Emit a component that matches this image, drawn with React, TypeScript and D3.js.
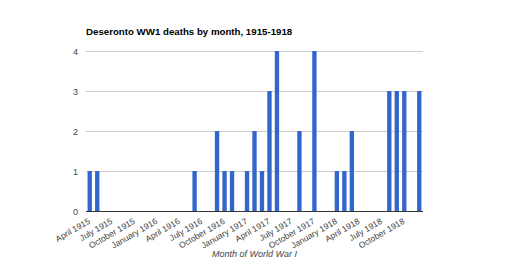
import React, { useRef, useEffect } from 'react';
import * as d3 from 'd3';

// deaths per month, April 1915 .. December 1918
const MONTHS = [
    "Apr 1915", "May 1915", "Jun 1915", "Jul 1915", "Aug 1915", "Sep 1915", "Oct 1915", "Nov 1915", "Dec 1915",
    "Jan 1916", "Feb 1916", "Mar 1916", "Apr 1916", "May 1916", "Jun 1916", "Jul 1916", "Aug 1916", "Sep 1916",
    "Oct 1916", "Nov 1916", "Dec 1916", "Jan 1917", "Feb 1917", "Mar 1917", "Apr 1917", "May 1917", "Jun 1917",
    "Jul 1917", "Aug 1917", "Sep 1917", "Oct 1917", "Nov 1917", "Dec 1917", "Jan 1918", "Feb 1918", "Mar 1918",
    "Apr 1918", "May 1918", "Jun 1918", "Jul 1918", "Aug 1918", "Sep 1918", "Oct 1918", "Nov 1918", "Dec 1918"
];

const DEATHS = [
    1, 1, 0, 0, 0, 0, 0, 0, 0,
    0, 0, 0, 0, 0, 1, 0, 0, 2,
    1, 1, 0, 1, 2, 1, 3, 4, 0,
    0, 2, 0, 4, 0, 0, 1, 1, 2,
    0, 0, 0, 0, 3, 3, 3, 0, 3
];

const TICK_MONTHS = [
    "Apr 1915", "Jul 1915", "Oct 1915", "Jan 1916", "Apr 1916", "Jul 1916", "Oct 1916", "Jan 1917",
    "Apr 1917", "Jul 1917", "Oct 1917", "Jan 1918", "Apr 1918", "Jul 1918", "Oct 1918"
];
const TICK_LABELS = [
    "April 1915", "July 1915", "October 1915", "January 1916", "April 1916", "July 1916", "October 1916", "January 1917",
    "April 1917", "July 1917", "October 1917", "January 1918", "April 1918", "July 1918", "October 1918"
];

const Y_TICKS = [0, 1, 2, 3, 4];

const TITLE = "Deseronto WW1 deaths by month, 1915-1918";
const X_TITLE = "Month of World War I";

const W = 510;
const H = 262;

const App: React.FC = () => {
    const svgRef = useRef<SVGSVGElement>(null);

    useEffect(() => {
        if (!svgRef.current) return;
        const svg = d3.select(svgRef.current);
        svg.selectAll("*").remove();

        const margin = { top: 51, right: 87, bottom: 51, left: 86 };
        const width = W - margin.left - margin.right;
        const height = H - margin.top - margin.bottom;

        const data = MONTHS.map((m, i) => ({ month: m, value: DEATHS[i] }));

        const xScale = d3.scaleBand<string>()
            .domain(MONTHS)
            .range([0, width])
            .paddingInner(0.42)
            .paddingOuter(0.21);

        const yScale = d3.scaleLinear()
            .domain([0, 4])
            .range([height, 0]);

        const font = "Arial, 'Liberation Sans', sans-serif";

        svg.append("text")
            .attr("x", margin.left)
            .attr("y", 35)
            .attr("fill", "#000")
            .style("font-family", font)
            .style("font-size", "9.7px")
            .style("font-weight", "bold")
            .text(TITLE);

        const g = svg.append("g").attr("transform", `translate(${margin.left},${margin.top})`);

        // gridlines
        g.selectAll("line.grid")
            .data(Y_TICKS.filter(t => t !== 0))
            .join("line")
            .attr("class", "grid")
            .attr("x1", 0)
            .attr("x2", width)
            .attr("y1", d => Math.round(yScale(d)) + 0.5)
            .attr("y2", d => Math.round(yScale(d)) + 0.5)
            .attr("stroke", "#cccccc")
            .attr("stroke-width", 1);

        g.selectAll("text.ytick")
            .data(Y_TICKS)
            .join("text")
            .attr("class", "ytick")
            .attr("x", -8)
            .attr("y", d => yScale(d) + 3.5)
            .attr("text-anchor", "end")
            .attr("fill", "#444")
            .style("font-family", font)
            .style("font-size", "9px")
            .text(d => d);

        g.selectAll("rect.bar")
            .data(data.filter(d => d.value > 0))
            .join("rect")
            .attr("class", "bar")
            .attr("x", d => xScale(d.month)!)
            .attr("y", d => yScale(d.value))
            .attr("width", xScale.bandwidth())
            .attr("height", d => height - yScale(d.value))
            .attr("fill", "#3366cc");

        // baseline
        g.append("line")
            .attr("x1", 0)
            .attr("x2", width)
            .attr("y1", height + 0.5)
            .attr("y2", height + 0.5)
            .attr("stroke", "#333")
            .attr("stroke-width", 1);

        g.selectAll("text.xtick")
            .data(TICK_MONTHS)
            .join("text")
            .attr("class", "xtick")
            .attr("text-anchor", "end")
            .attr("transform", d => `translate(${xScale(d)! + xScale.bandwidth() / 2 + 1},${height + 12}) rotate(-30)`)
            .attr("fill", "#444")
            .style("font-family", font)
            .style("font-size", "8.5px")
            .text((d, i) => TICK_LABELS[i]);

        g.append("text")
            .attr("x", width / 2)
            .attr("y", height + 46)
            .attr("text-anchor", "middle")
            .attr("fill", "#444")
            .style("font-family", font)
            .style("font-size", "9px")
            .style("font-style", "italic")
            .text(X_TITLE);
    }, []);

    return (
        <div style={{ position: 'absolute', left: 0, top: 0, width: W, height: H, background: '#fff' }}>
            <svg ref={svgRef} width={W} height={H} />
        </div>
    );
};

export default App;
